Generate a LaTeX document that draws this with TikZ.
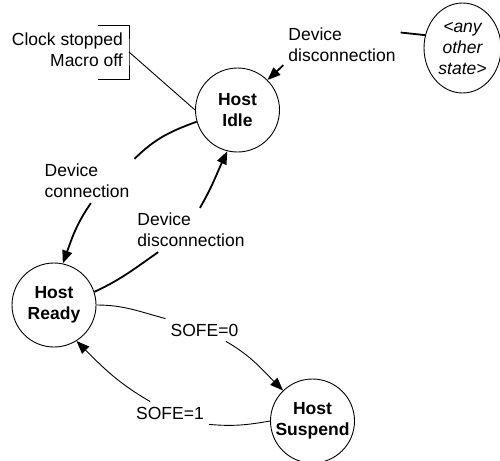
\documentclass[tikz,border=0pt]{standalone}
\usepackage{fontspec}
\setmainfont{Liberation Sans}
\usetikzlibrary{arrows.meta,shapes.geometric}

\newcommand{\diagfont}{\fontsize{17.5}{21}\selectfont}

\begin{document}
\begin{tikzpicture}[x=1pt,y=1pt,
  state/.style={draw,circle,line width=0.9pt,minimum size=84pt,inner sep=0pt,align=center,font=\diagfont\bfseries},
  anystate/.style={draw,ellipse,line width=0.9pt,minimum width=77pt,minimum height=90pt,inner sep=0pt,align=center,font=\diagfont\itshape},
  lbl/.style={inner sep=5pt,align=left,font=\diagfont},
  thinedge/.style={line width=0.9pt},
  thickedge/.style={line width=1.8pt},
  tip/.style={-{Triangle[length=13pt,width=10pt]}}]
\useasboundingbox (0,0) rectangle (500,-460);
% states
\node[state] (idle) at (237.5,-110) {Host\\Idle};
\node[state] (ready) at (54,-305) {Host\\Ready};
\node[state] (suspend) at (312.5,-421) {Host\\Suspend};
\node[anystate] (other) at (462.5,-48) {<any\\other\\state>};
% note on idle state
\node[lbl,inner sep=1pt,align=right,anchor=east] (note) at (124,-50) {Clock stopped\\Macro off};
\coordinate (brk) at (129,-52);
\draw[thinedge] (98,-25) -| (brk) |- (98,-79);
\draw[thinedge] (brk) -- (idle.west);
% labels
\node[lbl] (disc1) at (342,-45) {Device\\disconnection};
\node[lbl] (conn) at (87,-181) {Device\\connection};
\node[lbl] (disc2) at (191,-230) {Device\\disconnection};
\node[lbl] (sofe0) at (204.5,-330) {SOFE=0};
\node[lbl] (sofe1) at (170,-413) {SOFE=1};
% any state -> idle
\draw[thickedge] (other.161) -- (disc1.12);
\draw[thickedge,tip] (disc1.199) -- (idle.45);
% idle -> ready
\draw[thickedge] (idle.196) to[out=200,in=45] (conn.north east);
\draw[thickedge,tip] (conn.-80) to[out=235,in=70] (ready.78);
% ready -> idle
\draw[thickedge] (ready.18) to[out=25,in=215] (disc2.214);
\draw[thickedge,tip] (disc2.68) to[out=60,in=245] (idle.256);
% ready <-> suspend
\draw[thinedge] (ready.east) to[out=0,in=165] (sofe0.north west);
\draw[thinedge,tip] (sofe0.-28) to[out=-30,in=135] (suspend.134);
\draw[thinedge] (suspend.west) to[out=190,in=-5] (sofe1.south east);
\draw[thinedge,tip] (sofe1.150) to[out=150,in=-45] (ready.-58);
\end{tikzpicture}
\end{document}
